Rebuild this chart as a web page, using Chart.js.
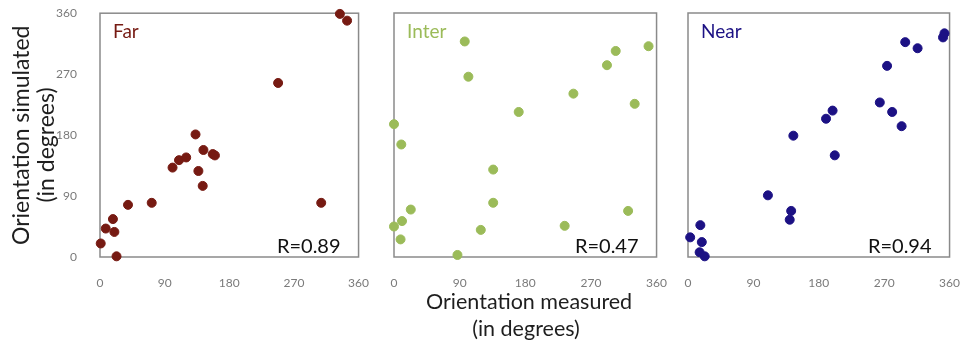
<!DOCTYPE html>
<html>
<head>
<meta charset="utf-8">
<script src="https://cdn.jsdelivr.net/npm/chart.js@4.4.1/dist/chart.umd.min.js"></script>
<style>
  body { margin: 0; background: #fff; width: 960px; height: 346px; position: relative; overflow: hidden; font-family: Lato, "Open Sans", sans-serif; }
  canvas { position: absolute; }
  .ttl { position: absolute; color: #1e1e1e; font-size: 21.5px; line-height: 27px; white-space: nowrap; text-align: center; }
  .ttl.side { font-size: 23px; line-height: 25px; }
</style>
</head>
<body>
<canvas id="far" width="388" height="317" style="left:0; top:-17px"></canvas>
<canvas id="inter" width="315" height="300" style="left:371px; top:0"></canvas>
<canvas id="near" width="314" height="300" style="left:665px; top:0"></canvas>

<div class="ttl" style="left:426px; top:288px; width:200px">Orientation measured<br>(in degrees)</div>
<div class="ttl side" style="left:-67px; top:120px; width:200px; transform:rotate(-90deg)">Orientation simulated<br>(in degrees)</div>

<script>
// angles in degrees, measured (x) vs simulated (y)
const farX = [1, 8, 18, 20, 23, 39, 72, 101, 110, 120, 133, 137, 144, 143, 157, 160, 248, 308, 334, 344];
const farY = [20, 42, 56, 37, 1, 77, 80, 132, 143, 147, 181, 127, 158, 105, 152, 150, 257, 80, 359, 349];

const interX = [0, 10, 0, 11, 9, 23, 87, 97, 102, 119, 136, 136, 171, 234, 246, 292, 304, 321, 330, 349];
const interY = [196, 166, 45, 53, 26, 70, 3, 318, 266, 40, 129, 80, 214, 46, 241, 283, 304, 68, 226, 311];

const nearX = [3, 17, 19, 16, 23, 110, 140, 142, 145, 190, 199, 202, 264, 274, 281, 294, 299, 316, 351, 353];
const nearY = [29, 47, 22, 7, 1, 91, 55, 68, 179, 204, 216, 150, 228, 282, 214, 193, 317, 308, 324, 330];

const axisTicks = [0, 90, 180, 270, 360];
const panelNames = ['Far', 'Inter', 'Near'];
const rLabels = ['R=0.89', 'R=0.47', 'R=0.94'];
const colors = ['#761a12', '#9bbb59', '#1c1184'];

const FONT = 'Lato, "Open Sans", sans-serif';
const lo = axisTicks[0], hi = axisTicks[axisTicks.length - 1];

// plot box taken from the scales themselves
function box(chart) {
  const x = chart.scales.x, y = chart.scales.y;
  return {
    left: x.getPixelForValue(lo), right: x.getPixelForValue(hi),
    top: y.getPixelForValue(hi), bottom: y.getPixelForValue(lo)
  };
}

// frame around the plot plus the panel name and R value
const framePlugin = {
  id: 'frame',
  beforeDatasetsDraw(chart, args, opts) {
    const b = box(chart), ctx = chart.ctx;
    ctx.save();
    ctx.strokeStyle = '#8a8a8a';
    ctx.lineWidth = 1.5;
    ctx.strokeRect(b.left, b.top, b.right - b.left, b.bottom - b.top);
    ctx.restore();
  },
  afterDatasetsDraw(chart, args, opts) {
    const b = box(chart), ctx = chart.ctx;
    ctx.save();
    ctx.textBaseline = 'alphabetic';
    ctx.font = '19px ' + FONT;
    ctx.fillStyle = opts.color;
    ctx.textAlign = 'left';
    ctx.fillText(opts.name, b.left + 13, b.top + 25);
    ctx.font = '20px ' + FONT;
    ctx.fillStyle = '#111';
    ctx.textAlign = 'right';
    ctx.fillText(opts.r, b.right - 18, b.bottom - 4);
    ctx.restore();
  }
};

const noGrid = { display: false, drawOnChartArea: false, drawTicks: false, tickLength: 0 };

function panel(id, xs, ys, idx, yWidth, pad) {
  const pts = xs.map((x, i) => ({ x: x, y: ys[i] }));
  return new Chart(document.getElementById(id), {
    type: 'scatter',
    data: {
      datasets: [{
        data: pts,
        backgroundColor: colors[idx],
        borderColor: colors[idx],
        pointRadius: 4.5,
        pointHoverRadius: 4.5,
        clip: false
      }]
    },
    options: {
      responsive: false,
      animation: false,
      devicePixelRatio: 1,
      layout: { padding: pad },
      plugins: {
        legend: { display: false },
        tooltip: { enabled: false },
        frame: { name: panelNames[idx], r: rLabels[idx], color: colors[idx] }
      },
      scales: {
        x: {
          type: 'linear',
          min: lo,
          max: hi,
          grid: noGrid,
          border: { display: false },
          ticks: { stepSize: 90, padding: 19, color: '#7a7a7a', font: { family: FONT, size: 12 } },
          afterFit(s) { s.height = 43; }
        },
        y: {
          type: 'linear',
          display: yWidth > 0,
          min: lo,
          max: hi,
          grid: noGrid,
          border: { display: false },
          ticks: { stepSize: 90, padding: 23, color: '#7a7a7a', font: { family: FONT, size: 12 } },
          afterFit(s) { s.width = yWidth; }
        }
      }
    },
    plugins: [framePlugin]
  });
}

panel('far', farX, farY, 0, 100, { top: 30, right: 29, left: 0, bottom: 0 });
panel('inter', interX, interY, 1, 0, { top: 13, right: 29, left: 23, bottom: 0 });
panel('near', nearX, nearY, 2, 0, { top: 13, right: 29, left: 23, bottom: 0 });
</script>
</body>
</html>
